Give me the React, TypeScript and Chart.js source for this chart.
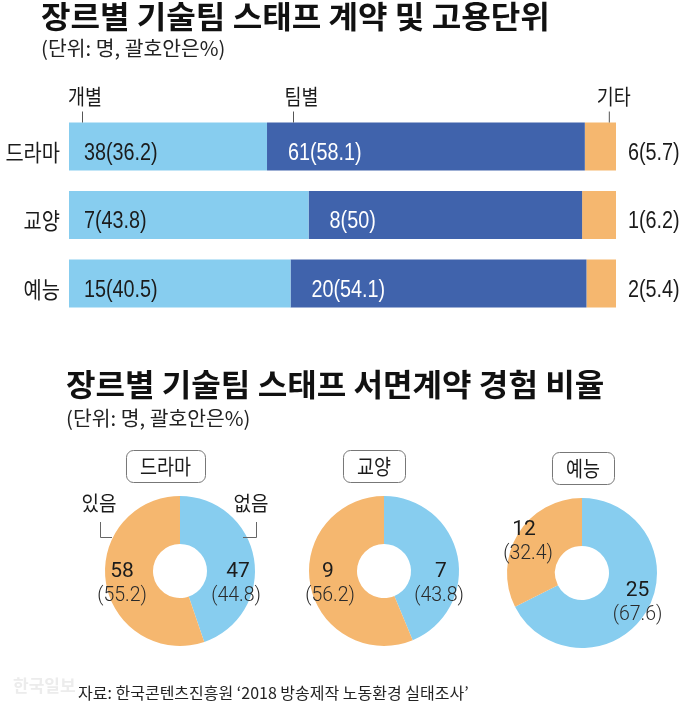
import React, { useEffect, useRef } from "react";
import { Chart, registerables } from "chart.js";
Chart.register(...registerables);

// ---------- data ----------
const genres = ["드라마", "교양", "예능"];
const unitLabels = ["개별", "팀별", "기타"];
const individualCounts = [38, 7, 15];
const individualPct = [36.2, 43.8, 40.5];
const teamCounts = [61, 8, 20];
const teamPct = [58.1, 50, 54.1];
const otherCounts = [6, 1, 2];
const otherPct = [5.7, 6.2, 5.4];

const contractLabels = ["없음", "있음"];
const dramaContract = [47, 58];
const dramaContractPct = [44.8, 55.2];
const cultureContract = [7, 9];
const cultureContractPct = [43.8, 56.2];
const varietyContract = [25, 12];
const varietyContractPct = [67.6, 32.4];

const title1 = "장르별 기술팀 스태프 계약 및 고용단위";
const title2 = "장르별 기술팀 스태프 서면계약 경험 비율";
const unitNote = "(단위: 명, 괄호안은%)";
const sourceNote = "자료: 한국콘텐츠진흥원 ‘2018 방송제작 노동환경 실태조사’";
const watermark = "한국일보";

// ---------- style ----------
const LIGHT = "#87CDEF";
const DARK = "#4063AC";
const ORANGE = "#F5B76F";
const INK = "#1b1b1b";
const KR = '"Noto Sans CJK KR", "Noto Sans", sans-serif';
const NUM = '"Liberation Sans", Arial, sans-serif';
const RB = 'Roboto, "Liberation Sans", sans-serif';

const DONUT_W = 216;
const DONUT_H = 232;
const DONUT_TOP = 440;
const DONUT_R = 75;

const donutLayout = [
  { cx: 180, cy: 571, pillDx: -14.5, num: [[58, 5.5], [-58, 5.5]], pct: [[56, 29.5], [-58, 29.5]], side: true },
  { cx: 384, cy: 571, pillDx: -10, num: [[57, 5.5], [-56, 5.5]], pct: [[55, 29.5], [-54, 29.5]], side: false },
  { cx: 582, cy: 573, pillDx: 1, num: [[55.5, 23], [-58, -38]], pct: [[55.5, 47], [-54, -14]], side: false },
];

function txt(ctx: CanvasRenderingContext2D, s: string, x: number, y: number, font: string, color: string, align: CanvasTextAlign = "left", sx = 1) {
  ctx.save();
  ctx.font = font;
  ctx.fillStyle = color;
  ctx.textAlign = align;
  ctx.textBaseline = "alphabetic";
  ctx.translate(x, y);
  ctx.scale(sx, 1);
  ctx.fillText(s, 0, 0);
  ctx.restore();
}

function line(ctx: CanvasRenderingContext2D, pts: number[][], color = "#666") {
  ctx.save();
  ctx.strokeStyle = color;
  ctx.lineWidth = 1;
  ctx.beginPath();
  pts.forEach((p, i) => (i === 0 ? ctx.moveTo(p[0], p[1]) : ctx.lineTo(p[0], p[1])));
  ctx.stroke();
  ctx.restore();
}

function roundRect(ctx: CanvasRenderingContext2D, x: number, y: number, w: number, h: number, r: number) {
  ctx.beginPath();
  ctx.moveTo(x + r, y);
  ctx.lineTo(x + w - r, y);
  ctx.arcTo(x + w, y, x + w, y + r, r);
  ctx.lineTo(x + w, y + h - r);
  ctx.arcTo(x + w, y + h, x + w - r, y + h, r);
  ctx.lineTo(x + r, y + h);
  ctx.arcTo(x, y + h, x, y + h - r, r);
  ctx.lineTo(x, y + r);
  ctx.arcTo(x, y, x + r, y, r);
  ctx.closePath();
}

const headerTickDx = [13, 26, 24];
const headerTextDx = [16, 34.5, 29];
const insideDx = [15, 21];

const barPlugin = {
  id: "barText",
  afterDraw(chart: any) {
    const ctx: CanvasRenderingContext2D = chart.ctx;
    // titles
    txt(ctx, title1, 41, 28, `700 31px ${KR}`, "#111", "left", 1.035);
    txt(ctx, unitNote, 41, 56, `400 20px ${KR}`, "#222", "left", 1.02);
    txt(ctx, title2, 66, 396, `700 31px ${KR}`, "#111", "left", 1.035);
    txt(ctx, unitNote, 66, 426, `400 20px ${KR}`, "#222", "left", 1.02);
    txt(ctx, watermark, 13, 692, `700 17px ${KR}`, "#ececec");
    txt(ctx, sourceNote, 78, 699, `400 16px ${KR}`, "#222");

    const yScale = chart.scales.y;
    chart.data.labels.forEach((lab: string, i: number) => {
      const y = yScale.getPixelForValue(i);
      txt(ctx, lab, 60, y + 14, `400 23px ${KR}`, INK, "right", 0.86);
    });

    const counts = [individualCounts, teamCounts, otherCounts];
    const pcts = [individualPct, teamPct, otherPct];
    chart.data.datasets.forEach((ds: any, di: number) => {
      const meta = chart.getDatasetMeta(di);
      meta.data.forEach((bar: any, j: number) => {
        const label = `${counts[di][j]}(${pcts[di][j]})`;
        const y = bar.y + 13;
        if (di < 2) {
          txt(ctx, label, bar.base + insideDx[di], y, `400 23px ${NUM}`, di === 0 ? INK : "#fff", "left", 0.86);
        } else {
          txt(ctx, label, chart.chartArea.right + 12, y, `400 23px ${NUM}`, INK, "left", 0.86);
        }
      });
      // header
      const first = meta.data[0];
      const top = first.y - first.height / 2;
      line(ctx, [[first.base + headerTickDx[di] + 0.5, top - 11], [first.base + headerTickDx[di] + 0.5, top]], "#555");
      txt(ctx, unitLabels[di], first.base + headerTextDx[di], 104, `400 21px ${KR}`, INK, "center", 0.88);
    });
  },
};

function donutPlugin(idx: number, pcts: number[]) {
  return {
    id: "donutText" + idx,
    afterDraw(chart: any) {
      const ctx: CanvasRenderingContext2D = chart.ctx;
      const L = donutLayout[idx];
      const arc = chart.getDatasetMeta(0).data[0];
      const cx = arc.x;
      const cy = arc.y;
      // pill
      ctx.save();
      ctx.font = `400 21px ${KR}`;
      const tw = ctx.measureText(genres[idx]).width * 0.88;
      ctx.restore();
      const pw = tw + 28;
      const px = cx + L.pillDx - pw / 2;
      const py = cy - 121;
      ctx.save();
      roundRect(ctx, px + 0.5, py + 0.5, pw, 32, 7);
      ctx.fillStyle = "#fff";
      ctx.fill();
      ctx.strokeStyle = "#777";
      ctx.lineWidth = 1;
      ctx.stroke();
      ctx.restore();
      txt(ctx, genres[idx], cx + L.pillDx, py + 24, `400 21px ${KR}`, INK, "center", 0.88);

      const vals = chart.data.datasets[0].data;
      vals.forEach((v: number, k: number) => {
        const [nx, ny] = L.num[k];
        const [qx, qy] = L.pct[k];
        txt(ctx, String(v), cx + nx, cy + ny, `400 21px ${RB}`, INK, "center");
        txt(ctx, `(${pcts[k]})`, cx + qx, cy + qy, `300 19.5px ${RB}`, "#2a2a2a", "center");
      });

      if (L.side) {
        // 있음 (left), 없음 (right)
        txt(ctx, contractLabels[1], cx - 81, cy - 60, `400 20px ${KR}`, INK, "center", 0.95);
        txt(ctx, contractLabels[0], cx + 71, cy - 60, `400 20px ${KR}`, INK, "center", 0.95);
        line(ctx, [[cx - 79.5, cy - 49], [cx - 79.5, cy - 33.5], [cx - 68, cy - 33.5]], "#666");
        line(ctx, [[cx + 76.5, cy - 49], [cx + 76.5, cy - 33.5], [cx + 63, cy - 33.5]], "#666");
      }
    },
  };
}

export default function App() {
  const barRef = useRef<HTMLCanvasElement>(null);
  const d0 = useRef<HTMLCanvasElement>(null);
  const d1 = useRef<HTMLCanvasElement>(null);
  const d2 = useRef<HTMLCanvasElement>(null);
  const donutRefs = [d0, d1, d2];

  useEffect(() => {
    document.body.style.margin = "0";
    document.body.style.background = "#fff";
    const charts: Chart[] = [];

    const areaTop = 112.25;
    const areaBottom = 317.75;
    charts.push(
      new Chart(barRef.current as HTMLCanvasElement, {
        type: "bar",
        data: {
          labels: genres,
          datasets: [
            { label: unitLabels[0], data: individualPct, backgroundColor: LIGHT },
            { label: unitLabels[1], data: teamPct, backgroundColor: DARK },
            { label: unitLabels[2], data: otherPct, backgroundColor: ORANGE },
          ],
        },
        options: {
          indexAxis: "y",
          responsive: false,
          animation: false,
          events: [],
          layout: { padding: { top: areaTop, bottom: 707 - areaBottom, left: 0, right: 64 } },
          datasets: { bar: { categoryPercentage: 1, barPercentage: 0.7, borderWidth: 0 } } as any,
          scales: {
            x: { stacked: true, min: 0, max: 100, display: false },
            y: {
              stacked: true,
              grid: { display: false, drawTicks: false },
              border: { display: false },
              ticks: { display: false },
              afterFit: (s: any) => {
                s.width = 69;
              },
            },
          },
          plugins: { legend: { display: false }, tooltip: { enabled: false } },
        },
        plugins: [barPlugin],
      })
    );

    const sets = [
      [dramaContract, dramaContractPct],
      [cultureContract, cultureContractPct],
      [varietyContract, varietyContractPct],
    ];
    sets.forEach(([vals, pcts], i) => {
      const L = donutLayout[i];
      const left = L.cx - DONUT_W / 2;
      const padL = L.cx - DONUT_R - left;
      const padR = DONUT_W - padL - 2 * DONUT_R;
      const padT = L.cy - DONUT_R - DONUT_TOP;
      const padB = DONUT_H - padT - 2 * DONUT_R;
      charts.push(
        new Chart(donutRefs[i].current as HTMLCanvasElement, {
          type: "doughnut",
          data: {
            labels: contractLabels,
            datasets: [{ data: vals, backgroundColor: [LIGHT, ORANGE], borderWidth: 0 }],
          },
          options: {
            responsive: false,
            animation: false,
            events: [],
            cutout: "36%",
            layout: { padding: { left: padL, right: padR, top: padT, bottom: padB } },
            plugins: { legend: { display: false }, tooltip: { enabled: false } },
          },
          plugins: [donutPlugin(i, pcts)],
        })
      );
    });

    return () => charts.forEach((c) => c.destroy());
  }, []);

  return (
    <div style={{ position: "relative", width: 680, height: 707, overflow: "hidden", background: "#fff" }}>
      <canvas ref={barRef} width={680} height={707} style={{ position: "absolute", left: 0, top: 0 }} />
      {donutLayout.map((L, i) => (
        <canvas
          key={i}
          ref={donutRefs[i]}
          width={DONUT_W}
          height={DONUT_H}
          style={{ position: "absolute", left: L.cx - DONUT_W / 2, top: DONUT_TOP }}
        />
      ))}
    </div>
  );
}
